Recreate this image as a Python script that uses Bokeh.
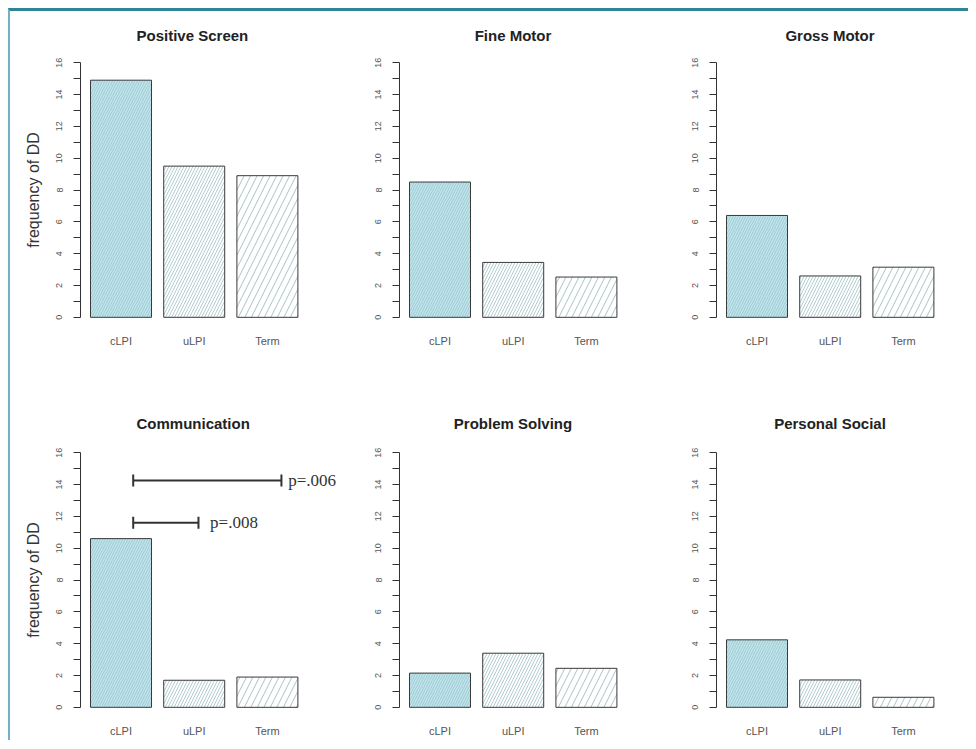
from bokeh.plotting import figure
from bokeh.layouts import gridplot
from bokeh.models import ColumnDataSource, Range1d, FixedTicker, Label
from bokeh.embed import file_html
from bokeh.resources import INLINE

# ---- data ----
categories = ["cLPI", "uLPI", "Term"]
panel_titles = ["Positive Screen", "Fine Motor", "Gross Motor",
                "Communication", "Problem Solving", "Personal Social"]
positive_screen = [14.9, 9.5, 8.9]
fine_motor = [8.5, 3.45, 2.53]
gross_motor = [6.4, 2.6, 3.15]
communication = [10.6, 1.7, 1.9]
problem_solving = [2.15, 3.4, 2.45]
personal_social = [4.24, 1.72, 0.63]
y_ticks = list(range(0, 17))
y_tick_labels = ["0", "", "2", "", "4", "", "6", "", "8", "", "10", "", "12", "", "14", "", "16"]
y_axis_label = "frequency of DD"
# significance brackets in Communication
sig_from = ["cLPI", "cLPI"]
sig_to = ["Term", "uLPI"]
sig_y = [14.25, 11.6]
sig_labels = ["p=.006", "p=.008"]

series = [positive_screen, fine_motor, gross_motor,
          communication, problem_solving, personal_social]

fill_colors = ["#c2e4ea", "#ffffff", "#ffffff"]
hatch_colors = ["#9bcbd4", "#b3cdd2", "#a9c3c8"]
hatch_scales = [5, 6, 13]

# barplot geometry (bar width 1, space 0.2 like R's barplot)
BAR_W, SPACE = 1.0, 0.2
centers = [round(SPACE + BAR_W / 2 + i * (BAR_W + SPACE), 3) for i in range(len(categories))]
center_of = dict(zip(categories, centers))

FONT = "Liberation Sans"
PX_PER_UNIT = 61.0
X_START = 0.036
widths = [340, 296, 322]
lefts = [70, 49, 70]
frame_ws = [265, 227, 227]
heights = [389, 340]
tops = [41, 42]
bottoms = [heights[0] - tops[0] - 275, heights[1] - tops[1] - 275]


def make_panel(idx):
    row, col = divmod(idx, 3)
    vals = series[idx]
    fw = frame_ws[col]
    p = figure(
        x_range=Range1d(X_START, X_START + fw / PX_PER_UNIT),
        y_range=Range1d(-0.64, 16.64),
        width=widths[col], height=heights[row],
        min_border_left=lefts[col],
        min_border_right=widths[col] - lefts[col] - fw,
        min_border_top=tops[row], min_border_bottom=bottoms[row],
        output_backend="svg", toolbar_location=None, tools="",
        title=panel_titles[idx],
    )
    p.outline_line_color = None
    p.grid.visible = False
    p.background_fill_color = "white"
    p.border_fill_color = "white"

    p.title.text_font = FONT
    p.title.text_font_size = "15px"
    p.title.text_font_style = "bold"
    p.title.text_color = "#222222"
    p.title.standoff = 18 if row == 0 else 21
    if col == 0:
        # frame is wider here; place the title over the bars
        p.title.align = "left"
        p.title.offset = 56
    else:
        p.title.align = "center"

    src = ColumnDataSource(dict(x=[center_of[c] for c in categories], top=vals,
                                fc=fill_colors, hc=hatch_colors, hs=hatch_scales))
    p.vbar(x="x", top="top", bottom=0, width=BAR_W, source=src,
           fill_color="fc", line_color="#3a3a3a", line_width=1,
           hatch_pattern="/", hatch_color="hc", hatch_scale="hs",
           hatch_weight=1)

    ya = p.yaxis[0]
    ya.ticker = FixedTicker(ticks=y_ticks)
    ya.major_label_overrides = {t: lab for t, lab in zip(y_ticks, y_tick_labels)}
    ya.bounds = (0, 16)
    ya.major_label_orientation = "vertical"
    ya.major_tick_out = 7
    ya.major_tick_in = 0
    ya.minor_tick_line_color = None
    ya.axis_line_color = "#333333"
    ya.major_tick_line_color = "#333333"
    ya.major_label_text_font = FONT
    ya.major_label_text_font_size = "9px"
    ya.major_label_text_color = "#555555"
    ya.major_label_standoff = 11
    if col == 0:
        ya.axis_label = y_axis_label
        ya.axis_label_text_font = FONT
        ya.axis_label_text_font_size = "16px"
        ya.axis_label_text_font_style = "normal"
        ya.axis_label_text_color = "#333333"
        ya.axis_label_standoff = 12

    xa = p.xaxis[0]
    xa.ticker = FixedTicker(ticks=centers)
    xa.major_label_overrides = {c: cat for c, cat in zip(centers, categories)}
    xa.axis_line_color = None
    xa.major_tick_line_color = None
    xa.major_tick_out = 0
    xa.minor_tick_line_color = None
    xa.major_label_standoff = 7
    xa.major_label_text_font = FONT
    xa.major_label_text_font_size = "11px"
    xa.major_label_text_color = "#555555"

    if panel_titles[idx] == "Communication":
        x0 = [center_of[c] + 0.2 for c in sig_from]
        x1 = [center_of[c] + (0.23 if c == "Term" else 0.07) for c in sig_to]
        bsrc = ColumnDataSource(dict(x0=x0, x1=x1, y=sig_y,
                                     ylo=[v - 0.38 for v in sig_y],
                                     yhi=[v + 0.38 for v in sig_y]))
        p.segment(x0="x0", y0="y", x1="x1", y1="y", source=bsrc,
                  line_color="#333333", line_width=2)
        p.segment(x0="x0", y0="ylo", x1="x0", y1="yhi", source=bsrc,
                  line_color="#333333", line_width=2)
        p.segment(x0="x1", y0="ylo", x1="x1", y1="yhi", source=bsrc,
                  line_color="#333333", line_width=2)
        for c, yv, t in zip(sig_to, sig_y, sig_labels):
            off = 0.34 if c == "Term" else 0.26
            p.add_layout(Label(x=center_of[c] + off, y=yv, text=t,
                               text_font="Liberation Serif", text_font_size="17px",
                               text_color="#333333", text_baseline="middle",
                               text_align="left"))
    return p


figs = [make_panel(i) for i in range(6)]
grid = gridplot([figs[0:3], figs[3:6]], toolbar_location=None,
                merge_tools=False)
grid.styles = {"border-top": "3px solid #2f8596",
               "border-left": "2px solid #6fb3c1",
               "background-color": "white",
               "margin-left": "8px",
               "margin-top": "8px"}

open("out.html", "w").write(file_html(grid, INLINE))
